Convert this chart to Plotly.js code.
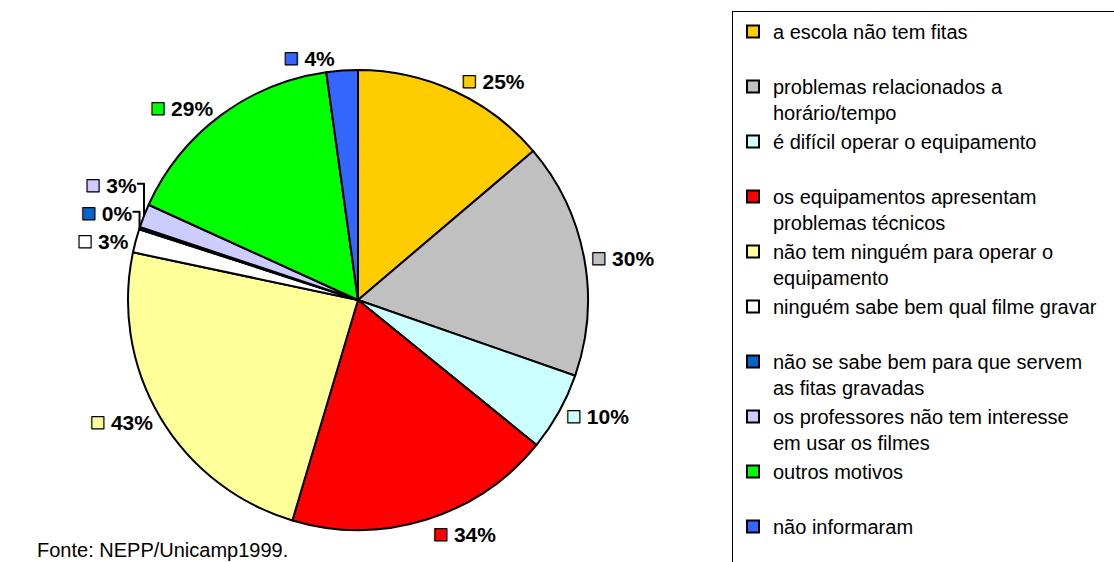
<!DOCTYPE html>
<html>
<head>
<meta charset="utf-8">
<script src="https://cdn.plot.ly/plotly-3.0.1.min.js"></script>
<style>
  html, body { margin: 0; padding: 0; background: #fff; }
  #chart { width: 1114px; height: 562px; }
</style>
</head>
<body>
<div id="chart"></div>
<script>
// motivos (legend labels) and percent of schools
const motivos = [
    'a escola não tem fitas<br>&nbsp;',
    'problemas relacionados a<br>horário/tempo',
    'é difícil operar o equipamento<br>&nbsp;',
    'os equipamentos apresentam<br>problemas técnicos',
    'não tem ninguém para operar o<br>equipamento',
    'ninguém sabe bem qual filme gravar&nbsp;&nbsp;&nbsp;&nbsp;<br>&nbsp;',
    'não se sabe bem para que servem<br>as fitas gravadas',
    'os professores não tem interesse<br>em usar os filmes',
    'outros motivos<br>&nbsp;',
    'não informaram<br>&nbsp;'
];
const percentuais = [25, 30, 10, 34, 43, 3, 0.3, 3, 29, 4];
const cores = ['#FFCC00', '#C0C0C0', '#CCFFFF', '#FF0000', '#FFFF99',
               '#FFFFFF', '#0066CC', '#CCCCFF', '#00FF00', '#3366FF'];

const fonte = 'Fonte: NEPP/Unicamp1999.';

// label = small colored key + bold percent
const rotulos = percentuais.map((v, i) =>
    '<span style="fill:' + cores[i] + ';stroke:#000;stroke-width:1.2px;font-size:25px">■</span> <b>' +
    Math.round(v) + '%</b>');

const W = 1114, H = 562;
const cx = 358, cy = 300, r = 230;

const data = [{
    type: 'pie',
    labels: motivos,
    values: percentuais,
    text: rotulos,
    textinfo: 'text',
    textposition: 'outside',
    sort: false,
    direction: 'clockwise',
    rotation: 0,
    marker: { colors: cores, line: { color: '#000', width: 2 } },
    outsidetextfont: { family: 'Liberation Sans, Arial, sans-serif', size: 21, color: '#000' },
    domain: {
        x: [(cx - r) / W, (cx + r) / W],
        y: [(H - cy - r) / H, (H - cy + r) / H]
    },
    automargin: false,
    hoverinfo: 'none'
}];

const layout = {
    width: W,
    height: H,
    margin: { l: 0, r: 0, t: 0, b: 0, autoexpand: false },
    paper_bgcolor: '#fff',
    showlegend: true,
    legend: {
        x: 732 / W, y: 1 - 11 / H,
        xanchor: 'left', yanchor: 'top',
        bordercolor: '#000', borderwidth: 1,
        bgcolor: '#fff',
        valign: 'top',
        font: { family: 'Liberation Sans, Arial, sans-serif', size: 20, color: '#000' }
    },
    annotations: [{
        xref: 'paper', yref: 'paper',
        x: 35 / W, y: 1 - 550 / H,
        xanchor: 'left', yanchor: 'middle',
        text: fonte, showarrow: false,
        font: { family: 'Liberation Sans, Arial, sans-serif', size: 20, color: '#000' }
    }]
};

Plotly.newPlot('chart', data, layout, { staticPlot: true, displayModeBar: false });
</script>
</body>
</html>
